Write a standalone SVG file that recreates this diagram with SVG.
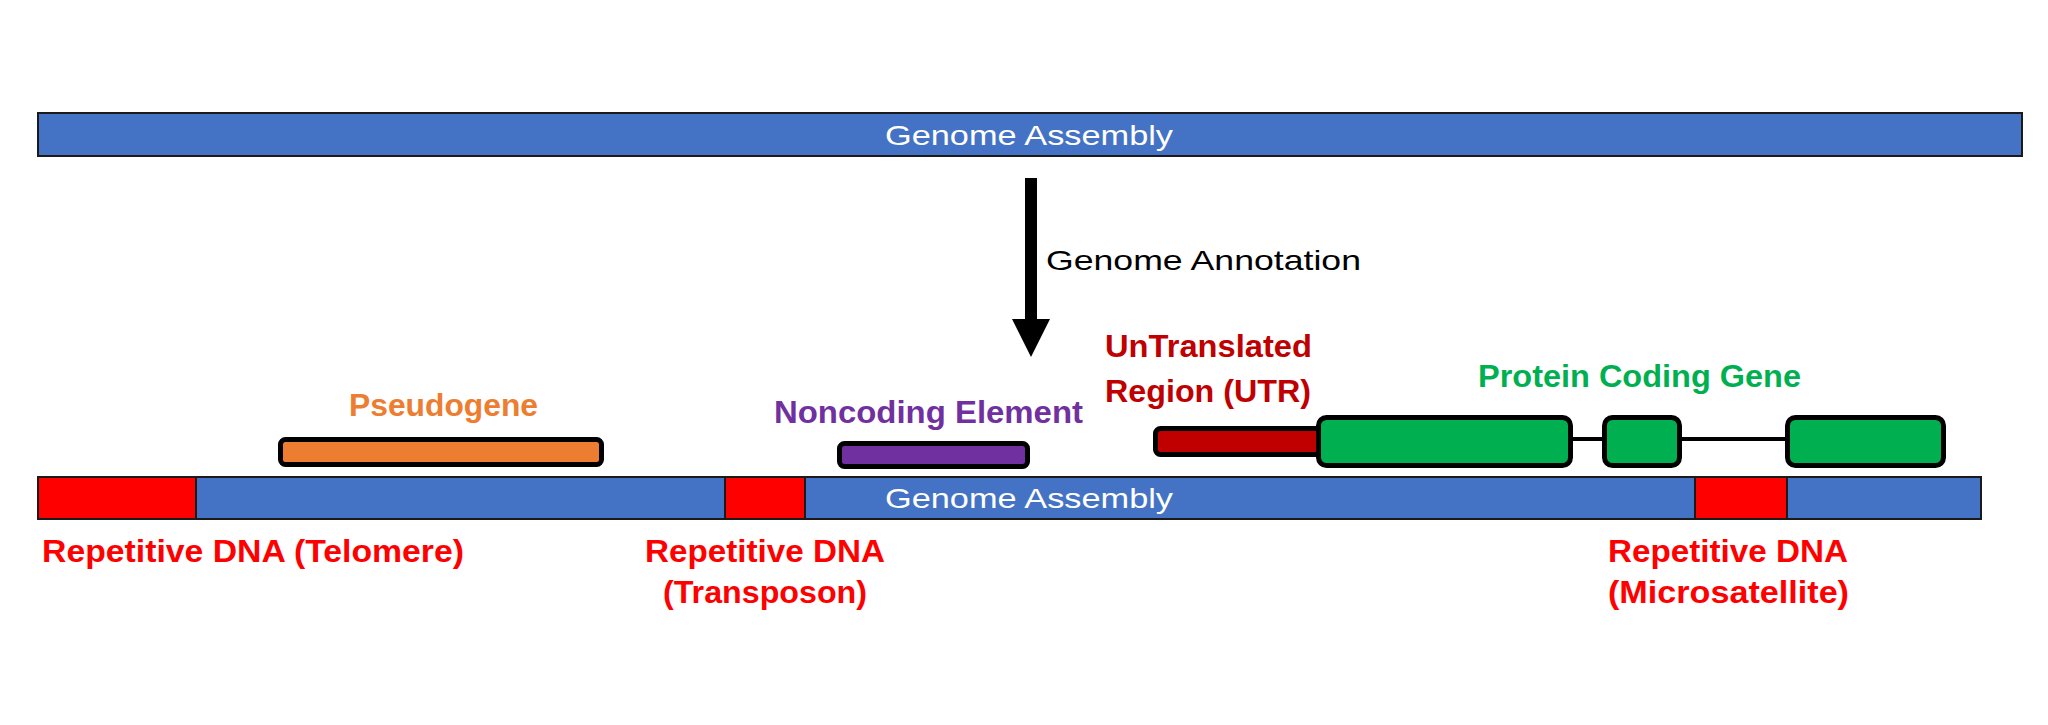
<svg xmlns="http://www.w3.org/2000/svg" width="2048" height="725" viewBox="0 0 2048 725">
<style>
.bar{fill:#4472C4;stroke:#1a1a1a;stroke-width:2}
.rep{fill:#FF0000;stroke:#1a1a1a;stroke-width:2}
.feat{stroke:#000;stroke-width:5}
.lbl{font-family:"Liberation Sans",Arial,sans-serif;font-weight:bold;font-size:31px}
.reg{font-family:"Liberation Sans",Arial,sans-serif;font-size:28px}
</style>
<rect width="2048" height="725" fill="#fff"/>
<g id="top-assembly">
<rect class="bar" x="38" y="113" width="1984" height="43"/>
<text class="reg" x="1029" y="145" fill="#fff" text-anchor="middle" textLength="288" lengthAdjust="spacingAndGlyphs">Genome Assembly</text>
</g>
<g id="connectors">
<rect x="1025" y="178" width="12" height="142" fill="#000"/>
<polygon points="1012,319 1050,319 1031,357" fill="#000"/>
<text class="reg" x="1046" y="270" fill="#000" font-size="30" textLength="315" lengthAdjust="spacingAndGlyphs">Genome Annotation</text>
</g>
<g id="bottom-assembly">
<rect class="bar" x="38" y="477" width="1943" height="42"/>
<text class="reg" x="1029" y="508" fill="#fff" text-anchor="middle" textLength="288" lengthAdjust="spacingAndGlyphs">Genome Assembly</text>
</g>
<g id="telomere">
<rect class="rep" x="38" y="477" width="158" height="42"/>
<text class="lbl" x="42" y="562" fill="#FF0000" textLength="422" lengthAdjust="spacingAndGlyphs">Repetitive DNA (Telomere)</text>
</g>
<g id="transposon">
<rect class="rep" x="725" y="477" width="80" height="42"/>
<text class="lbl" x="645" y="562" fill="#FF0000" textLength="240" lengthAdjust="spacingAndGlyphs">Repetitive DNA</text>
<text class="lbl" x="663" y="603" fill="#FF0000" textLength="204" lengthAdjust="spacingAndGlyphs">(Transposon)</text>
</g>
<g id="microsatellite">
<rect class="rep" x="1695" y="477" width="92" height="42"/>
<text class="lbl" x="1608" y="562" fill="#FF0000" textLength="240" lengthAdjust="spacingAndGlyphs">Repetitive DNA</text>
<text class="lbl" x="1608" y="603" fill="#FF0000" textLength="241" lengthAdjust="spacingAndGlyphs">(Microsatellite)</text>
</g>
<g id="pseudogene">
<rect class="feat" x="280.5" y="439.5" width="321" height="25" rx="5" fill="#ED7D31"/>
<text class="lbl" x="349" y="416" fill="#ED7D31" textLength="189" lengthAdjust="spacingAndGlyphs">Pseudogene</text>
</g>
<g id="noncoding">
<rect class="feat" x="839.5" y="443.5" width="188" height="23" rx="5" fill="#7030A0"/>
<text class="lbl" x="774" y="423" fill="#7030A0" textLength="309" lengthAdjust="spacingAndGlyphs">Noncoding Element</text>
</g>
<g id="utr">
<rect class="feat" x="1155.5" y="428.5" width="170" height="26" rx="5" fill="#C00000"/>
<text class="lbl" x="1105" y="357" fill="#C00000" textLength="207" lengthAdjust="spacingAndGlyphs">UnTranslated</text>
<text class="lbl" x="1105" y="402" fill="#C00000" textLength="206" lengthAdjust="spacingAndGlyphs">Region (UTR)</text>
</g>
<g id="protein-coding-gene">
<line x1="1570" y1="439" x2="1790" y2="439" stroke="#000" stroke-width="4"/>
<rect class="feat" x="1318.5" y="417.5" width="252" height="48" rx="8" fill="#00B050"/>
<rect class="feat" x="1604.5" y="417.5" width="75" height="48" rx="8" fill="#00B050"/>
<rect class="feat" x="1787.5" y="417.5" width="156" height="48" rx="8" fill="#00B050"/>
<text class="lbl" x="1478" y="387" fill="#00B050" textLength="323" lengthAdjust="spacingAndGlyphs">Protein Coding Gene</text>
</g>
</svg>
